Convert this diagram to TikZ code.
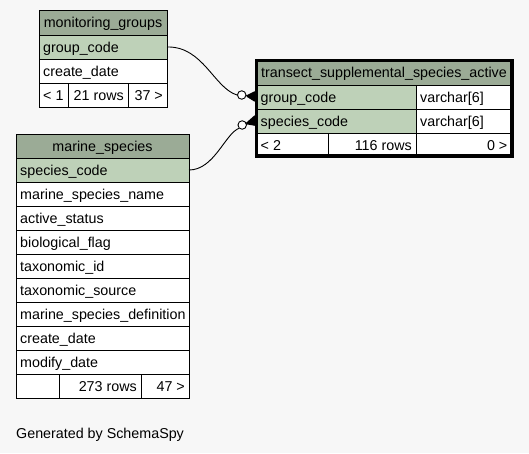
\documentclass[tikz,border=0pt]{standalone}
\usepackage{fontspec}
\setmainfont{Liberation Sans}
\definecolor{bg}{HTML}{F7F7F7}
\definecolor{hdr}{HTML}{9BAB96}
\definecolor{key}{HTML}{BED1B8}
\tikzset{
  cellbox/.style={draw=black, line width=0.9pt, anchor=north west, inner sep=0pt, outer sep=0pt},
  celltext/.style={inner sep=0pt, font=\fontsize{14.3}{16}\selectfont, text=black},
  conn/.style={draw=black, line width=0.9pt},
  crowline/.style={draw=black, line width=1.6pt},
  optcircle/.style={circle, draw=black, fill=white, line width=0.9pt, minimum size=8.5pt, inner sep=0pt}
}
\newcommand\tc[6]{\node[cellbox,fill=#6,minimum width=#4pt,minimum height=#5pt] (#1) at (#2,#3) {};}
\newcommand\tl[2]{\node[celltext,anchor=base west] (#1-t) at ([xshift=4pt,yshift=-5pt]#1.west) {#2};}
\newcommand\tlt[2]{\node[celltext,anchor=base west] (#1-t) at ([xshift=5.5pt,yshift=-5pt]#1.west) {#2};}
\newcommand\tr[2]{\node[celltext,anchor=base east] (#1-t) at ([xshift=-4pt,yshift=-5pt]#1.east) {#2};}
\newcommand\trt[2]{\node[celltext,anchor=base east] (#1-t) at ([xshift=-5.5pt,yshift=-5pt]#1.east) {#2};}
\newcommand\tm[2]{\node[celltext,anchor=base] (#1-t) at ([yshift=-5pt]#1.center) {#2};}
\begin{document}
\begin{tikzpicture}[x=1pt,y=-1pt]
\fill[bg] (0,0) rectangle (529,453);
\useasboundingbox (0,0) rectangle (529,453);

% monitoring_groups
\tc{mgh}{39}{10.5}{128}{24.5}{hdr}\tm{mgh}{monitoring\_groups}
\tc{mg1}{39}{35}{128}{24}{key}\tl{mg1}{group\_code}
\tc{mg2}{39}{59}{128}{24}{white}\tl{mg2}{create\_date}
\tc{mgf1}{39}{83}{29}{24}{white}\tl{mgf1}{< 1}
\tc{mgf2}{68}{83}{60}{24}{white}\tr{mgf2}{21 rows}
\tc{mgf3}{128}{83}{39}{24}{white}\tr{mgf3}{37 >}

% marine_species
\tc{msh}{16}{134}{173}{24}{hdr}\tm{msh}{marine\_species}
\tc{ms1}{16}{158}{173}{24}{key}\tl{ms1}{species\_code}
\tc{ms2}{16}{182}{173}{24}{white}\tl{ms2}{marine\_species\_name}
\tc{ms3}{16}{206}{173}{24}{white}\tl{ms3}{active\_status}
\tc{ms4}{16}{230}{173}{24}{white}\tl{ms4}{biological\_flag}
\tc{ms5}{16}{254}{173}{24}{white}\tl{ms5}{taxonomic\_id}
\tc{ms6}{16}{278}{173}{24}{white}\tl{ms6}{taxonomic\_source}
\tc{ms7}{16}{302}{173}{24}{white}\tl{ms7}{marine\_species\_definition}
\tc{ms8}{16}{326}{173}{24}{white}\tl{ms8}{create\_date}
\tc{ms9}{16}{350}{173}{24}{white}\tl{ms9}{modify\_date}
\tc{msf1}{16}{374}{43}{24}{white}
\tc{msf2}{59}{374}{82}{24}{white}\tr{msf2}{273 rows}
\tc{msf3}{141}{374}{48}{24}{white}\tr{msf3}{47 >}

% transect_supplemental_species_active
\tc{tsh}{255}{59}{258}{26}{hdr}\tm{tsh}{transect\_supplemental\_species\_active}
\tc{ts1}{255}{85}{161}{24}{key}\tlt{ts1}{group\_code}
\tc{ts1b}{416}{85}{97}{24}{white}\tl{ts1b}{varchar[6]}
\tc{ts2}{255}{109}{161}{24}{key}\tlt{ts2}{species\_code}
\tc{ts2b}{416}{109}{97}{24}{white}\tl{ts2b}{varchar[6]}
\tc{tsf1}{255}{133}{73}{24}{white}\tlt{tsf1}{< 2}
\tc{tsf2}{328}{133}{88}{24}{white}\tr{tsf2}{116 rows}
\tc{tsf3}{416}{133}{97}{24}{white}\trt{tsf3}{0 >}
\draw[line width=2.6pt] (256.3,60.3) rectangle (511.7,155.7);

% connectors
\node[optcircle] (c1) at (241.7,95) {};
\node[optcircle] (c2) at (242.2,125) {};
\coordinate (a1) at (247,96);
\coordinate (a2) at (246.5,123.5);
\coordinate (e1a) at (255,92);
\coordinate (e1b) at (255,96.5);
\coordinate (e1c) at (255,101);
\coordinate (e2a) at (255,116);
\coordinate (e2b) at (255,120.5);
\coordinate (e2c) at (255,125);

\draw[conn] (mg1.east) .. controls (203,46) and (214,88) .. (c1.west);
\draw[conn] (ms1.east) .. controls (214,170) and (225,134) .. (c2.south west);
\draw[conn] (c1.east) -- (a1);
\draw[conn] (c2.east) -- (a2);
\fill[black] (a1) -- (e1a) -- (e1c) -- cycle;
\fill[black] (a2) -- (e2a) -- (e2c) -- cycle;
\draw[crowline] (a1) -- (e1a) (a1) -- (e1b) (a1) -- (e1c);
\draw[crowline] (a2) -- (e2a) (a2) -- (e2b) (a2) -- (e2c);

\node[celltext,anchor=base west] (gen) at (16,438) {Generated by SchemaSpy};
\end{tikzpicture}
\end{document}
